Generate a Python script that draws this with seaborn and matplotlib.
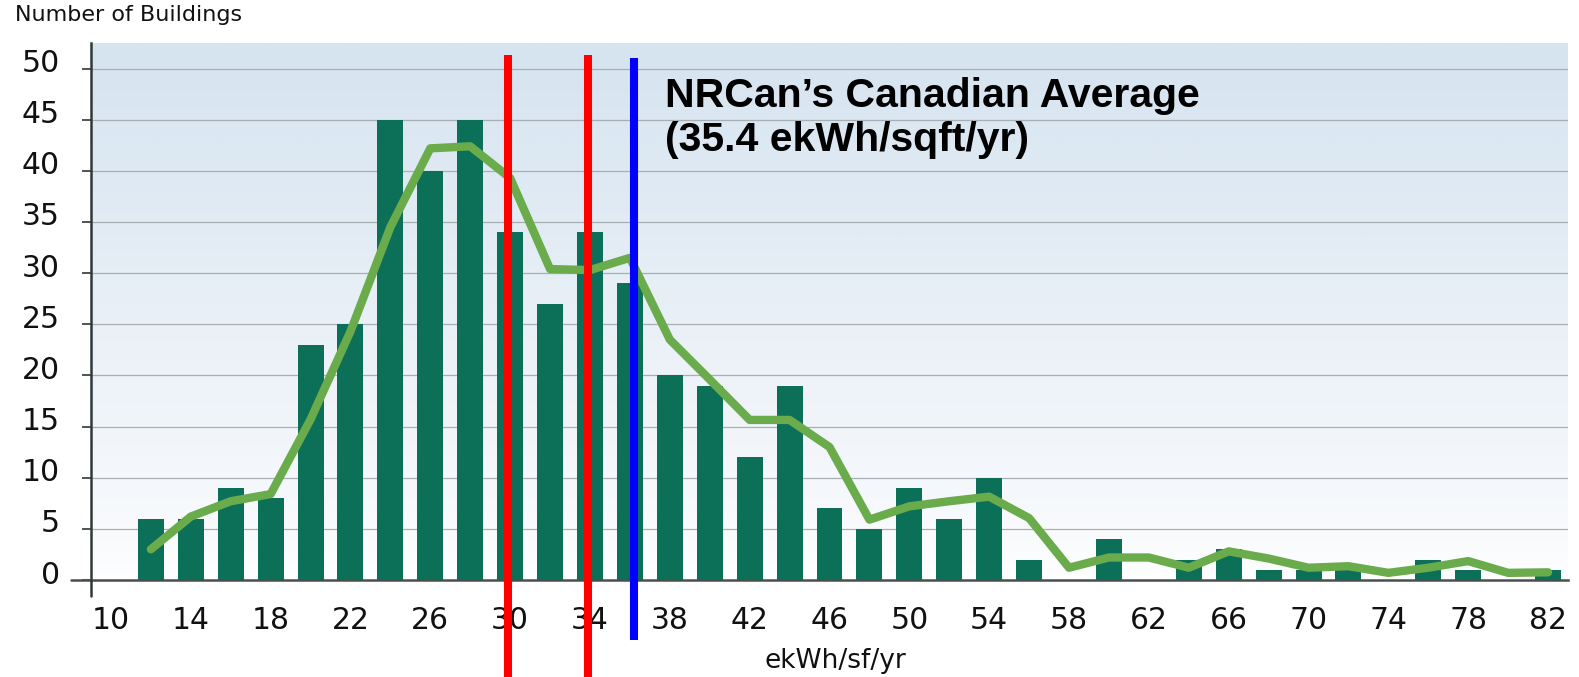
import numpy as np
import pandas as pd
import matplotlib
matplotlib.use("Agg")
import matplotlib.pyplot as plt
import matplotlib.transforms as mtransforms
from matplotlib.colors import LinearSegmentedColormap
import seaborn as sns

# centre of each 2 ekWh/sf/yr bin
bins = [12, 14, 16, 18, 20, 22, 24, 26, 28, 30, 32, 34, 36, 38, 40, 42, 44, 46,
        48, 50, 52, 54, 56, 58, 60, 62, 64, 66, 68, 70, 72, 74, 76, 78, 80, 82]
buildings = [6, 6, 9, 8, 23, 25, 45, 40, 45, 34, 27, 34, 29, 20, 19, 12, 19, 7,
             5, 9, 6, 10, 2, 0, 4, 0, 2, 3, 1, 1, 1, 0, 2, 1, 0, 1]
trend = [3.0, 6.2, 7.7, 8.4, 15.7, 24.3, 34.5, 42.2, 42.4, 39.3, 30.4, 30.3,
         31.5, 23.5, 19.6, 15.65, 15.65, 13.0, 5.9, 7.2, 7.7, 8.15, 6.05, 1.2,
         2.2, 2.2, 1.2, 2.8, 2.1, 1.2, 1.35, 0.7, 1.2, 1.85, 0.7, 0.75]

x_labels = list(range(10, 83, 4))
x_edges = list(range(9, 84, 2))
y_ticks = list(range(0, 51, 5))

red_marks = [29.9, 33.9]
nrcan_mark = 36.2
nrcan_text = "NRCan\u2019s Canadian Average\n(35.4 ekWh/sqft/yr)"

df = pd.DataFrame({"bin": bins, "buildings": buildings, "trend": trend})

sns.set_style("white")
plt.rcParams["font.family"] = ["DejaVu Sans"]

fig = plt.figure(figsize=(15.79, 6.77), dpi=100)
ax = fig.add_axes([91 / 1579, 97 / 677, 1477 / 1579, 537 / 677])

# light blue -> white background
cmap = LinearSegmentedColormap.from_list("bg", ["#ffffff", "#eef3f9", "#d6e4f0"])
grad = np.linspace(0, 1, 256).reshape(-1, 1) ** 0.7
ax.imshow(grad, extent=[9, 83, 0, 52.5], origin="lower", aspect="auto",
          cmap=cmap, zorder=0)

for yv in y_ticks[1:]:
    ax.axhline(yv, color="#a9aeb3", lw=0.9, zorder=1)

sns.barplot(data=df, x="bin", y="buildings", native_scale=True, width=0.65,
            color="#0c6f58", saturation=1, edgecolor="none", linewidth=0,
            ax=ax, zorder=2)
sns.lineplot(data=df, x="bin", y="trend", color="#6aab4c", lw=6, ax=ax,
             solid_capstyle="round", solid_joinstyle="round", zorder=3)

ax.set_xlim(9, 83)
ax.set_ylim(0, 52.5)

for xv in red_marks:
    ax.axvline(xv, ymin=-0.18, ymax=0.978, color="#ff0000", lw=5.8,
               clip_on=False, zorder=6, solid_capstyle="butt")
ax.axvline(nrcan_mark, ymin=-0.112, ymax=0.972, color="#0000ff", lw=5.8,
           clip_on=False, zorder=6, solid_capstyle="butt")

ax.text(37.74, 49.2, nrcan_text, fontsize=29.5, fontweight="bold",
        family=["Liberation Sans", "DejaVu Sans"], va="top", ha="left",
        linespacing=1.2, color="black", zorder=7)

# axes lines
for s in ["top", "right"]:
    ax.spines[s].set_visible(False)
ax.spines["left"].set_color("#2f3a36")
ax.spines["left"].set_linewidth(1.8)
ax.spines["bottom"].set_color("#4a4f4d")
ax.spines["bottom"].set_linewidth(1.8)
ax.plot([8.0, 9], [0, 0], color="#4a4f4d", lw=1.8, clip_on=False, zorder=4)
ax.plot([9, 9], [0, -1.6], color="#2f3a36", lw=1.8, clip_on=False, zorder=4)

ax.set_xticks(x_labels)
ax.set_xticklabels([str(v) for v in x_labels])
ax.set_xticks(x_edges, minor=True)
ax.tick_params(axis="x", which="major", length=0, pad=19, labelsize=21.5,
               labelcolor="#111111")
ax.tick_params(axis="x", which="minor", length=11.5, width=1.3,
               color="#8c8c8c", direction="out")
ax.set_yticks(y_ticks)
ax.set_yticklabels([str(v) for v in y_ticks])
ax.tick_params(axis="y", length=6.5, width=1.2, color="#2f3a36", pad=16,
               labelsize=21.5, labelcolor="#111111", left=True)
offset = mtransforms.ScaledTranslation(0, 8 / 100, fig.dpi_scale_trans)
for lab in ax.get_yticklabels():
    lab.set_transform(lab.get_transform() + offset)

ax.set_xlabel("ekWh/sf/yr", fontsize=19, color="#111111")
ax.xaxis.set_label_coords(0.504, -0.127)
ax.set_ylabel("")
fig.text(15 / 1579, 1 - 5 / 677, "Number of Buildings", fontsize=16,
         color="#111111", va="top", ha="left")

fig.savefig("out.png", dpi=100)
